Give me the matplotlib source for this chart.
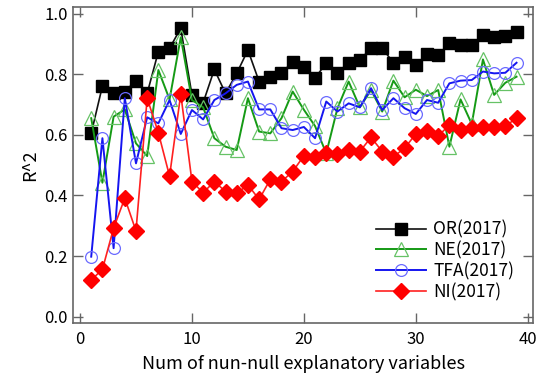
import matplotlib
matplotlib.use("Agg")
import matplotlib.pyplot as plt
import numpy as np

plt.rcParams['font.family'] = ['Noto Sans CJK JP', 'DejaVu Sans']

n_vars = np.arange(1, 40)

# R^2 per number of non-null explanatory variables
or_2017 = [0.605, 0.761, 0.737, 0.743, 0.779, 0.737, 0.875, 0.886, 0.952, 0.732,
           0.706, 0.816, 0.737, 0.803, 0.880, 0.776, 0.792, 0.803, 0.842, 0.824,
           0.787, 0.838, 0.805, 0.838, 0.847, 0.886, 0.886, 0.838, 0.856, 0.829,
           0.867, 0.864, 0.902, 0.897, 0.897, 0.930, 0.924, 0.926, 0.939]
ne_2017 = [0.655, 0.442, 0.660, 0.684, 0.572, 0.530, 0.814, 0.717, 0.922, 0.715,
           0.691, 0.589, 0.561, 0.550, 0.721, 0.611, 0.605, 0.655, 0.743, 0.683,
           0.629, 0.539, 0.688, 0.776, 0.691, 0.748, 0.677, 0.779, 0.724, 0.749,
           0.728, 0.748, 0.561, 0.717, 0.636, 0.849, 0.732, 0.772, 0.792]
tfa_2017 = [0.198, 0.589, 0.226, 0.721, 0.506, 0.658, 0.638, 0.715, 0.603, 0.682,
            0.651, 0.715, 0.737, 0.765, 0.776, 0.684, 0.684, 0.622, 0.616, 0.626,
            0.589, 0.710, 0.677, 0.704, 0.691, 0.754, 0.682, 0.721, 0.688, 0.669,
            0.715, 0.706, 0.770, 0.779, 0.781, 0.809, 0.803, 0.805, 0.838]
ni_2017 = [0.121, 0.156, 0.292, 0.391, 0.283, 0.721, 0.607, 0.464, 0.735, 0.446,
           0.409, 0.446, 0.413, 0.407, 0.435, 0.387, 0.453, 0.446, 0.479, 0.531,
           0.528, 0.539, 0.537, 0.550, 0.545, 0.592, 0.545, 0.528, 0.556, 0.603,
           0.613, 0.596, 0.633, 0.616, 0.622, 0.625, 0.625, 0.629, 0.655]

fig = plt.figure(figsize=(5.41, 3.79), dpi=100)
ax = fig.add_axes([0.1355, 0.1485, 0.8503, 0.8322])

ax.plot(n_vars, or_2017, color="#111111", lw=1.2, marker="s", ms=9,
        mfc="black", mec="black", label="OR(2017)")
ax.plot(n_vars, ne_2017, color="#159a15", lw=1.4, marker="^", ms=9.5,
        mfc="none", mec="#66c266", mew=0.9, label="NE(2017)")
ax.plot(n_vars, tfa_2017, color="#1515f0", lw=1.4, marker="o", ms=8.5,
        mfc="none", mec="#6a6aff", mew=0.9, label="TFA(2017)")
ax.plot(n_vars, ni_2017, color="#ff2020", lw=1.2, marker="D", ms=8,
        mfc="#ff0000", mec="#ff0000", label="NI(2017)")

ax.set_xlim(-0.6, 40.5)
ax.set_ylim(-0.02, 1.021)
ax.set_xticks([0, 10, 20, 30, 40])
ax.set_yticks(np.arange(0, 1.01, 0.2))
ax.set_yticklabels([f"{v:.1f}" for v in np.arange(0, 1.01, 0.2)])
ax.tick_params(direction="in", length=7, width=1, color="#666666",
               top=True, right=True, labelsize=12)
ax.tick_params(axis="x", pad=6)
ax.tick_params(axis="y", pad=4)
for sp in ax.spines.values():
    sp.set_color("#666666")
    sp.set_linewidth(1.2)

ax.set_xlabel("Num of nun-null explanatory variables", fontsize=13, labelpad=5)
ax.set_ylabel("R^2", fontsize=13, labelpad=4)

ax.legend(loc="lower right", bbox_to_anchor=(0.985, 0.03), frameon=False,
          fontsize=12.5, handlelength=2.9, handletextpad=0.4,
          labelspacing=0.15, borderaxespad=0.3)

fig.savefig("out.png", dpi=100)
